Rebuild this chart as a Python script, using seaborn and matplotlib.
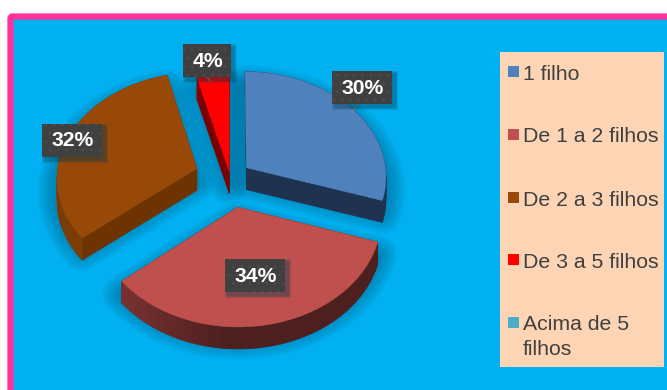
import numpy as np
import matplotlib
matplotlib.use("Agg")
import matplotlib.pyplot as plt
from matplotlib.patches import FancyBboxPatch, Polygon, Rectangle
import seaborn as sns

categories = ["1 filho", "De 1 a 2 filhos", "De 2 a 3 filhos", "De 3 a 5 filhos", "Acima de 5\nfilhos"]
percentages = [30, 34, 32, 4, 0]
explode = [0.145, 0.29, 0.25, 0.05, 0.0]
top_colors = ["#4F81BD", "#C0504D", "#984807", "#FF0000", "#4BACC6"]
side_colors = ["#1F3350", "#4F1F1E", "#6D3300", "#7A0000", "#1F5A6B"]

sns.set_theme(style="white")
plt.rcParams["font.family"] = ["Liberation Sans", "DejaVu Sans"]
plt.rcParams["hatch.linewidth"] = 0.6
palette = sns.color_palette(top_colors)
side_palette = sns.color_palette(side_colors)

# Projection of the tilted pie onto the canvas (pixel units, y pointing down)
CX, CY, RX, RY, PERSP, DEPTH = 230, 176.6, 140, 105, 0.08, 22


def project(u, v, drop=0.0):
    s = 1 / (1 + PERSP * v)
    return CX + RX * u * s, CY - RY * v * s + drop


def wedge_outline(a0, a1, off, drop=0.0, n=80):
    th = np.linspace(a0, a1, n)
    du, dv = off
    rim = [project(np.sin(t) + du, np.cos(t) + dv, drop) for t in th]
    return [project(du, dv, drop)] + rim


fig = plt.figure(figsize=(6.67, 3.9), dpi=100, facecolor="white")
ax = fig.add_axes([0, 0, 1, 1])
ax.set_xlim(0, 667)
ax.set_ylim(390, 0)
ax.axis("off")

# Chart area with its pink frame, running off the right and bottom edges
ax.add_patch(FancyBboxPatch((10.5, 16.5), 680, 400, boxstyle="round,pad=0,rounding_size=2",
                            fc="#00B0F0", ec="#FF3399", lw=4.5, zorder=0))

# Slice geometry
total = sum(percentages)
edges = np.cumsum([0] + percentages) / total * 2 * np.pi
slices = []
for i, pct in enumerate(percentages):
    if pct == 0:
        continue
    a0, a1 = edges[i], edges[i + 1]
    mid = (a0 + a1) / 2
    slices.append((i, a0, a1, (explode[i] * np.sin(mid), explode[i] * np.cos(mid))))

# Soft drop shadows under each slice
for i, a0, a1, off in slices:
    outline = wedge_outline(a0, a1, off, DEPTH * 0.6)
    for lw in np.linspace(28, 2, 12):
        ax.add_patch(Polygon(outline, closed=True, fc="#006A96", ec="#006A96", lw=lw,
                             alpha=0.07, joinstyle="round", zorder=1))

# Extruded sides, then the top faces
for order, (i, a0, a1, off) in enumerate(sorted(slices, key=lambda s: (s[0] == 1, s[0] == 0))):
    base = 2 + order
    du, dv = off
    for a in (a0, a1):
        p0 = project(du, dv)
        p1 = project(np.sin(a) + du, np.cos(a) + dv)
        quad = [p0, p1, (p1[0], p1[1] + DEPTH), (p0[0], p0[1] + DEPTH)]
        ax.add_patch(Polygon(quad, closed=True, fc=side_palette[i], ec=side_palette[i], lw=0.3, zorder=base))
    th = np.linspace(a0, a1, 90)
    for t0, t1 in zip(th[:-1], th[1:]):
        p0 = project(np.sin(t0) + du, np.cos(t0) + dv)
        p1 = project(np.sin(t1) + du, np.cos(t1) + dv)
        # the far left of the rim catches a little more light
        glow = np.clip((-np.sin((t0 + t1) / 2) - 0.1) / 0.7, 0, 1)
        col = np.array(side_palette[i]) + glow * (np.array(palette[i]) - np.array(side_palette[i])) * 0.4
        quad = [p0, p1, (p1[0], p1[1] + DEPTH), (p0[0], p0[1] + DEPTH)]
        ax.add_patch(Polygon(quad, closed=True, fc=col, ec=col, lw=0.4, zorder=base))
    ax.add_patch(Polygon(wedge_outline(a0, a1, off), closed=True, fc=palette[i], ec=palette[i],
                         lw=0.3, zorder=base + 0.5))

# Percentage callouts
callouts = {0: (362, 87.5, (352, 112)), 1: (255, 275, None), 2: (72, 140, None), 3: (207, 60.5, (210, 81))}
for i, (x, y, leader) in callouts.items():
    w = 48 if percentages[i] < 10 else 60
    h = 33
    if leader:
        ax.plot([x if i == 3 else x - 4, leader[0]], [y + h / 2, leader[1]], color="#7F7F7F", lw=1, zorder=9)
    for grow in (6, 4, 2):
        ax.add_patch(Rectangle((x - w / 2 + 3 - grow / 2, y - h / 2 + 3 - grow / 2), w + grow, h + grow,
                               fc="#003A50", ec="none", alpha=0.16, zorder=9))
    ax.add_patch(Rectangle((x - w / 2, y - h / 2), w, h, fc="#404040", ec="#4E4E4E", lw=0, hatch="..", zorder=10))
    ax.text(x + 0.8, y + 1, f"{percentages[i]}%", color="white", fontsize=15.2, fontweight="bold",
            ha="center", va="center", zorder=11)

# Legend panel
ax.add_patch(Rectangle((500, 52), 164, 315, fc="#FDD5B5", ec="none", zorder=12))
row_y = [72, 135, 198, 260, 323]
for label, color, y in zip(categories, palette, row_y):
    ax.add_patch(Rectangle((508, y - 6), 11, 11, fc=color, ec="none", zorder=13))
    ax.text(523, y - 7.5, label, color="#404040", fontsize=15.3, ha="left", va="top",
            linespacing=1.35, zorder=13)

fig.savefig("out.png", dpi=100, facecolor="white")
